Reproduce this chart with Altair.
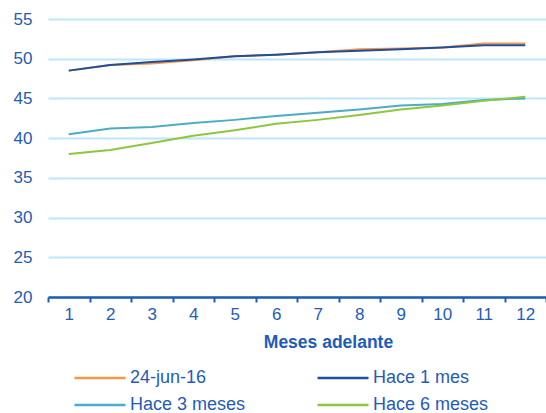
import altair as alt
import pandas as pd

months = list(range(1, 13))
series_names = ["24-jun-16", "Hace 1 mes", "Hace 3 meses", "Hace 6 meses"]
jun24 = [48.5, 49.2, 49.4, 49.8, 50.3, 50.5, 50.8, 51.2, 51.3, 51.4, 51.9, 51.9]
hace1 = [48.5, 49.2, 49.6, 49.9, 50.3, 50.5, 50.8, 51.0, 51.2, 51.4, 51.7, 51.7]
hace3 = [40.5, 41.2, 41.4, 41.9, 42.3, 42.8, 43.2, 43.6, 44.1, 44.3, 44.8, 45.0]
hace6 = [38.0, 38.5, 39.4, 40.3, 41.0, 41.8, 42.3, 42.9, 43.6, 44.1, 44.7, 45.2]
colors = ["#F79646", "#1F4E9A", "#4BACC6", "#8DC63F"]

rows = []
for name, vals in zip(series_names, [jun24, hace1, hace3, hace6]):
    for m, v in zip(months, vals):
        rows.append({"mes": m, "valor": v, "serie": name})
df = pd.DataFrame(rows)

axis_blue = "#1F5BB8"
font = "Liberation Sans"

chart = alt.Chart(df).mark_line(strokeWidth=2).encode(
    x=alt.X("mes:O", title="Meses adelante",
            scale=alt.Scale(paddingInner=0, paddingOuter=0),
            axis=alt.Axis(labelAngle=0, tickBand="extent", tickSize=5, tickWidth=2,
                          tickColor=axis_blue, domainColor=axis_blue, domainWidth=2.5,
                          labelColor=axis_blue, labelFont=font, labelFontSize=17,
                          labelPadding=4, titleColor=axis_blue, titleFont=font,
                          titleFontSize=17.5, titleFontWeight="bold",
                          titleX=280, titleY=36, titleBaseline="top", titleAlign="center",
                          grid=False)),
    y=alt.Y("valor:Q", title=None,
            scale=alt.Scale(domain=[20, 55], nice=False, zero=False),
            axis=alt.Axis(values=[20, 25, 30, 35, 40, 45, 50, 55], domain=False, ticks=False,
                          gridColor="#BDE5F7", gridWidth=2, labelColor=axis_blue,
                          labelFont=font, labelFontSize=17, labelPadding=16)),
    color=alt.Color("serie:N", scale=alt.Scale(domain=series_names, range=colors),
                    sort=series_names,
                    legend=alt.Legend(title=None, orient="none", legendX=25, legendY=349,
                                      columns=2, direction="horizontal",
                                      symbolType="stroke", symbolSize=2601, symbolStrokeWidth=2.5,
                                      labelFont=font, labelFontSize=18, labelColor=axis_blue,
                                      labelOffset=3, columnPadding=70, rowPadding=7,
                                      clipHeight=20)),
    order=alt.Order("mes:O"),
).properties(
    width=498, height=278,
    padding={"left": 48, "top": 19, "right": 0, "bottom": 116},
    autosize=alt.AutoSizeParams(type="none"),
).configure_view(stroke=None)

chart.save("out.html", embed_options={"renderer": "svg", "actions": False})
